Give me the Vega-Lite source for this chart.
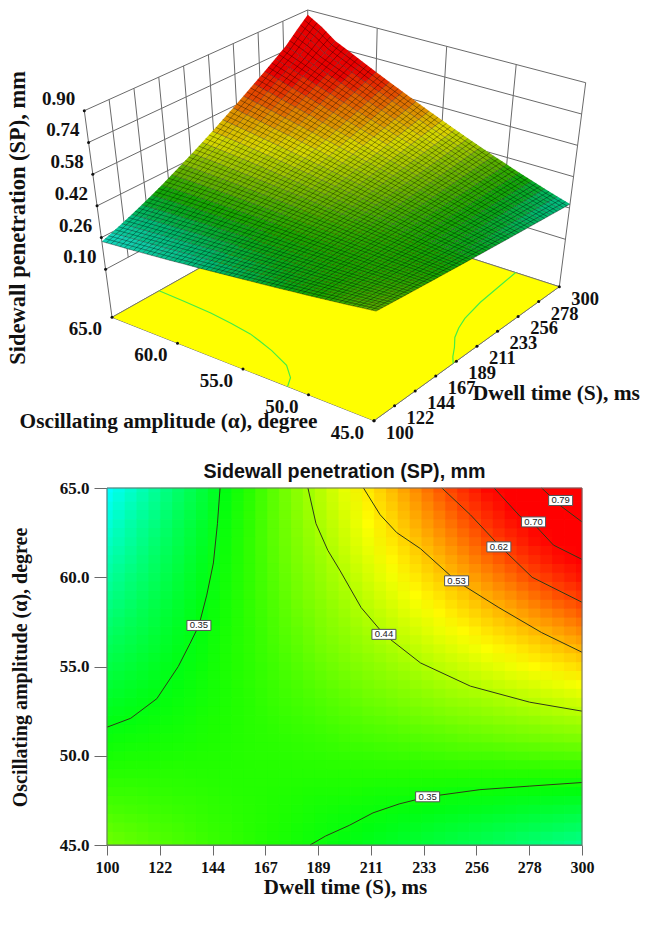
{"$schema":"https://vega.github.io/schema/vega-lite/v6.json","width":646,"height":927,"padding":0,"autosize":{"type":"none"},"background":"#ffffff","config":{"view":{"stroke":null},"legend":{"disable":true}},
"datasets":{
"grid":[
{"t":100,"a":45,"v":0.4},{"t":110,"a":45,"v":0.394},{"t":120,"a":45,"v":0.388},{"t":130,"a":45,"v":0.382},{"t":140,"a":45,"v":0.376},{"t":150,"a":45,"v":0.37},{"t":160,"a":45,"v":0.364},{"t":170,"a":45,"v":0.358},{"t":180,"a":45,"v":0.352},{"t":190,"a":45,"v":0.346},{"t":200,"a":45,"v":0.34},{"t":210,"a":45,"v":0.334},{"t":220,"a":45,"v":0.328},{"t":230,"a":45,"v":0.322},{"t":240,"a":45,"v":0.316},{"t":250,"a":45,"v":0.31},{"t":260,"a":45,"v":0.304},{"t":270,"a":45,"v":0.298},{"t":280,"a":45,"v":0.292},{"t":290,"a":45,"v":0.286},{"t":300,"a":45,"v":0.28},
{"t":100,"a":46,"v":0.391},{"t":110,"a":46,"v":0.386},{"t":120,"a":46,"v":0.381},{"t":130,"a":46,"v":0.377},{"t":140,"a":46,"v":0.372},{"t":150,"a":46,"v":0.368},{"t":160,"a":46,"v":0.363},{"t":170,"a":46,"v":0.359},{"t":180,"a":46,"v":0.354},{"t":190,"a":46,"v":0.349},{"t":200,"a":46,"v":0.345},{"t":210,"a":46,"v":0.34},{"t":220,"a":46,"v":0.336},{"t":230,"a":46,"v":0.331},{"t":240,"a":46,"v":0.326},{"t":250,"a":46,"v":0.322},{"t":260,"a":46,"v":0.317},{"t":270,"a":46,"v":0.313},{"t":280,"a":46,"v":0.308},{"t":290,"a":46,"v":0.304},{"t":300,"a":46,"v":0.299},
{"t":100,"a":47,"v":0.381},{"t":110,"a":47,"v":0.378},{"t":120,"a":47,"v":0.375},{"t":130,"a":47,"v":0.372},{"t":140,"a":47,"v":0.369},{"t":150,"a":47,"v":0.366},{"t":160,"a":47,"v":0.363},{"t":170,"a":47,"v":0.36},{"t":180,"a":47,"v":0.356},{"t":190,"a":47,"v":0.353},{"t":200,"a":47,"v":0.35},{"t":210,"a":47,"v":0.347},{"t":220,"a":47,"v":0.344},{"t":230,"a":47,"v":0.341},{"t":240,"a":47,"v":0.338},{"t":250,"a":47,"v":0.335},{"t":260,"a":47,"v":0.332},{"t":270,"a":47,"v":0.329},{"t":280,"a":47,"v":0.325},{"t":290,"a":47,"v":0.322},{"t":300,"a":47,"v":0.319},
{"t":100,"a":48,"v":0.372},{"t":110,"a":48,"v":0.371},{"t":120,"a":48,"v":0.369},{"t":130,"a":48,"v":0.367},{"t":140,"a":48,"v":0.366},{"t":150,"a":48,"v":0.364},{"t":160,"a":48,"v":0.362},{"t":170,"a":48,"v":0.361},{"t":180,"a":48,"v":0.359},{"t":190,"a":48,"v":0.357},{"t":200,"a":48,"v":0.356},{"t":210,"a":48,"v":0.354},{"t":220,"a":48,"v":0.353},{"t":230,"a":48,"v":0.351},{"t":240,"a":48,"v":0.35},{"t":250,"a":48,"v":0.348},{"t":260,"a":48,"v":0.347},{"t":270,"a":48,"v":0.345},{"t":280,"a":48,"v":0.344},{"t":290,"a":48,"v":0.342},{"t":300,"a":48,"v":0.34},
{"t":100,"a":49,"v":0.363},{"t":110,"a":49,"v":0.363},{"t":120,"a":49,"v":0.363},{"t":130,"a":49,"v":0.363},{"t":140,"a":49,"v":0.362},{"t":150,"a":49,"v":0.362},{"t":160,"a":49,"v":0.362},{"t":170,"a":49,"v":0.362},{"t":180,"a":49,"v":0.362},{"t":190,"a":49,"v":0.362},{"t":200,"a":49,"v":0.362},{"t":210,"a":49,"v":0.362},{"t":220,"a":49,"v":0.362},{"t":230,"a":49,"v":0.362},{"t":240,"a":49,"v":0.362},{"t":250,"a":49,"v":0.362},{"t":260,"a":49,"v":0.362},{"t":270,"a":49,"v":0.362},{"t":280,"a":49,"v":0.362},{"t":290,"a":49,"v":0.362},{"t":300,"a":49,"v":0.362},
{"t":100,"a":50,"v":0.354},{"t":110,"a":50,"v":0.356},{"t":120,"a":50,"v":0.357},{"t":130,"a":50,"v":0.358},{"t":140,"a":50,"v":0.36},{"t":150,"a":50,"v":0.361},{"t":160,"a":50,"v":0.363},{"t":170,"a":50,"v":0.364},{"t":180,"a":50,"v":0.366},{"t":190,"a":50,"v":0.367},{"t":200,"a":50,"v":0.369},{"t":210,"a":50,"v":0.37},{"t":220,"a":50,"v":0.372},{"t":230,"a":50,"v":0.373},{"t":240,"a":50,"v":0.375},{"t":250,"a":50,"v":0.377},{"t":260,"a":50,"v":0.378},{"t":270,"a":50,"v":0.38},{"t":280,"a":50,"v":0.382},{"t":290,"a":50,"v":0.383},{"t":300,"a":50,"v":0.385},
{"t":100,"a":51,"v":0.346},{"t":110,"a":51,"v":0.349},{"t":120,"a":51,"v":0.351},{"t":130,"a":51,"v":0.354},{"t":140,"a":51,"v":0.357},{"t":150,"a":51,"v":0.36},{"t":160,"a":51,"v":0.363},{"t":170,"a":51,"v":0.366},{"t":180,"a":51,"v":0.369},{"t":190,"a":51,"v":0.372},{"t":200,"a":51,"v":0.376},{"t":210,"a":51,"v":0.379},{"t":220,"a":51,"v":0.382},{"t":230,"a":51,"v":0.385},{"t":240,"a":51,"v":0.388},{"t":250,"a":51,"v":0.392},{"t":260,"a":51,"v":0.395},{"t":270,"a":51,"v":0.399},{"t":280,"a":51,"v":0.402},{"t":290,"a":51,"v":0.406},{"t":300,"a":51,"v":0.409},
{"t":100,"a":52,"v":0.337},{"t":110,"a":52,"v":0.342},{"t":120,"a":52,"v":0.346},{"t":130,"a":52,"v":0.35},{"t":140,"a":52,"v":0.355},{"t":150,"a":52,"v":0.359},{"t":160,"a":52,"v":0.364},{"t":170,"a":52,"v":0.368},{"t":180,"a":52,"v":0.373},{"t":190,"a":52,"v":0.378},{"t":200,"a":52,"v":0.383},{"t":210,"a":52,"v":0.388},{"t":220,"a":52,"v":0.392},{"t":230,"a":52,"v":0.397},{"t":240,"a":52,"v":0.402},{"t":250,"a":52,"v":0.408},{"t":260,"a":52,"v":0.413},{"t":270,"a":52,"v":0.418},{"t":280,"a":52,"v":0.423},{"t":290,"a":52,"v":0.429},{"t":300,"a":52,"v":0.434},
{"t":100,"a":53,"v":0.329},{"t":110,"a":53,"v":0.335},{"t":120,"a":53,"v":0.34},{"t":130,"a":53,"v":0.346},{"t":140,"a":53,"v":0.352},{"t":150,"a":53,"v":0.358},{"t":160,"a":53,"v":0.364},{"t":170,"a":53,"v":0.371},{"t":180,"a":53,"v":0.377},{"t":190,"a":53,"v":0.383},{"t":200,"a":53,"v":0.39},{"t":210,"a":53,"v":0.397},{"t":220,"a":53,"v":0.403},{"t":230,"a":53,"v":0.41},{"t":240,"a":53,"v":0.417},{"t":250,"a":53,"v":0.424},{"t":260,"a":53,"v":0.431},{"t":270,"a":53,"v":0.438},{"t":280,"a":53,"v":0.445},{"t":290,"a":53,"v":0.453},{"t":300,"a":53,"v":0.46},
{"t":100,"a":54,"v":0.321},{"t":110,"a":54,"v":0.328},{"t":120,"a":54,"v":0.335},{"t":130,"a":54,"v":0.342},{"t":140,"a":54,"v":0.35},{"t":150,"a":54,"v":0.357},{"t":160,"a":54,"v":0.365},{"t":170,"a":54,"v":0.373},{"t":180,"a":54,"v":0.381},{"t":190,"a":54,"v":0.389},{"t":200,"a":54,"v":0.397},{"t":210,"a":54,"v":0.406},{"t":220,"a":54,"v":0.414},{"t":230,"a":54,"v":0.423},{"t":240,"a":54,"v":0.432},{"t":250,"a":54,"v":0.441},{"t":260,"a":54,"v":0.45},{"t":270,"a":54,"v":0.459},{"t":280,"a":54,"v":0.468},{"t":290,"a":54,"v":0.477},{"t":300,"a":54,"v":0.487},
{"t":100,"a":55,"v":0.313},{"t":110,"a":55,"v":0.321},{"t":120,"a":55,"v":0.33},{"t":130,"a":55,"v":0.338},{"t":140,"a":55,"v":0.347},{"t":150,"a":55,"v":0.357},{"t":160,"a":55,"v":0.366},{"t":170,"a":55,"v":0.375},{"t":180,"a":55,"v":0.385},{"t":190,"a":55,"v":0.395},{"t":200,"a":55,"v":0.405},{"t":210,"a":55,"v":0.415},{"t":220,"a":55,"v":0.426},{"t":230,"a":55,"v":0.436},{"t":240,"a":55,"v":0.447},{"t":250,"a":55,"v":0.458},{"t":260,"a":55,"v":0.469},{"t":270,"a":55,"v":0.48},{"t":280,"a":55,"v":0.492},{"t":290,"a":55,"v":0.503},{"t":300,"a":55,"v":0.515},
{"t":100,"a":56,"v":0.305},{"t":110,"a":56,"v":0.314},{"t":120,"a":56,"v":0.324},{"t":130,"a":56,"v":0.335},{"t":140,"a":56,"v":0.345},{"t":150,"a":56,"v":0.356},{"t":160,"a":56,"v":0.367},{"t":170,"a":56,"v":0.378},{"t":180,"a":56,"v":0.389},{"t":190,"a":56,"v":0.401},{"t":200,"a":56,"v":0.413},{"t":210,"a":56,"v":0.425},{"t":220,"a":56,"v":0.437},{"t":230,"a":56,"v":0.45},{"t":240,"a":56,"v":0.462},{"t":250,"a":56,"v":0.475},{"t":260,"a":56,"v":0.489},{"t":270,"a":56,"v":0.502},{"t":280,"a":56,"v":0.516},{"t":290,"a":56,"v":0.53},{"t":300,"a":56,"v":0.544},
{"t":100,"a":57,"v":0.297},{"t":110,"a":57,"v":0.308},{"t":120,"a":57,"v":0.319},{"t":130,"a":57,"v":0.331},{"t":140,"a":57,"v":0.343},{"t":150,"a":57,"v":0.355},{"t":160,"a":57,"v":0.367},{"t":170,"a":57,"v":0.38},{"t":180,"a":57,"v":0.393},{"t":190,"a":57,"v":0.407},{"t":200,"a":57,"v":0.42},{"t":210,"a":57,"v":0.434},{"t":220,"a":57,"v":0.449},{"t":230,"a":57,"v":0.463},{"t":240,"a":57,"v":0.478},{"t":250,"a":57,"v":0.493},{"t":260,"a":57,"v":0.509},{"t":270,"a":57,"v":0.525},{"t":280,"a":57,"v":0.541},{"t":290,"a":57,"v":0.557},{"t":300,"a":57,"v":0.574},
{"t":100,"a":58,"v":0.289},{"t":110,"a":58,"v":0.301},{"t":120,"a":58,"v":0.314},{"t":130,"a":58,"v":0.327},{"t":140,"a":58,"v":0.34},{"t":150,"a":58,"v":0.354},{"t":160,"a":58,"v":0.368},{"t":170,"a":58,"v":0.382},{"t":180,"a":58,"v":0.397},{"t":190,"a":58,"v":0.412},{"t":200,"a":58,"v":0.428},{"t":210,"a":58,"v":0.444},{"t":220,"a":58,"v":0.46},{"t":230,"a":58,"v":0.477},{"t":240,"a":58,"v":0.494},{"t":250,"a":58,"v":0.512},{"t":260,"a":58,"v":0.53},{"t":270,"a":58,"v":0.548},{"t":280,"a":58,"v":0.567},{"t":290,"a":58,"v":0.586},{"t":300,"a":58,"v":0.605},
{"t":100,"a":59,"v":0.282},{"t":110,"a":59,"v":0.295},{"t":120,"a":59,"v":0.309},{"t":130,"a":59,"v":0.323},{"t":140,"a":59,"v":0.337},{"t":150,"a":59,"v":0.353},{"t":160,"a":59,"v":0.368},{"t":170,"a":59,"v":0.384},{"t":180,"a":59,"v":0.401},{"t":190,"a":59,"v":0.418},{"t":200,"a":59,"v":0.435},{"t":210,"a":59,"v":0.453},{"t":220,"a":59,"v":0.472},{"t":230,"a":59,"v":0.491},{"t":240,"a":59,"v":0.51},{"t":250,"a":59,"v":0.53},{"t":260,"a":59,"v":0.551},{"t":270,"a":59,"v":0.571},{"t":280,"a":59,"v":0.593},{"t":290,"a":59,"v":0.615},{"t":300,"a":59,"v":0.637},
{"t":100,"a":60,"v":0.274},{"t":110,"a":60,"v":0.289},{"t":120,"a":60,"v":0.303},{"t":130,"a":60,"v":0.319},{"t":140,"a":60,"v":0.335},{"t":150,"a":60,"v":0.351},{"t":160,"a":60,"v":0.368},{"t":170,"a":60,"v":0.386},{"t":180,"a":60,"v":0.404},{"t":190,"a":60,"v":0.423},{"t":200,"a":60,"v":0.443},{"t":210,"a":60,"v":0.463},{"t":220,"a":60,"v":0.483},{"t":230,"a":60,"v":0.505},{"t":240,"a":60,"v":0.527},{"t":250,"a":60,"v":0.549},{"t":260,"a":60,"v":0.572},{"t":270,"a":60,"v":0.596},{"t":280,"a":60,"v":0.62},{"t":290,"a":60,"v":0.645},{"t":300,"a":60,"v":0.67},
{"t":100,"a":61,"v":0.267},{"t":110,"a":61,"v":0.282},{"t":120,"a":61,"v":0.298},{"t":130,"a":61,"v":0.314},{"t":140,"a":61,"v":0.332},{"t":150,"a":61,"v":0.35},{"t":160,"a":61,"v":0.368},{"t":170,"a":61,"v":0.388},{"t":180,"a":61,"v":0.408},{"t":190,"a":61,"v":0.428},{"t":200,"a":61,"v":0.45},{"t":210,"a":61,"v":0.472},{"t":220,"a":61,"v":0.495},{"t":230,"a":61,"v":0.519},{"t":240,"a":61,"v":0.543},{"t":250,"a":61,"v":0.568},{"t":260,"a":61,"v":0.594},{"t":270,"a":61,"v":0.62},{"t":280,"a":61,"v":0.648},{"t":290,"a":61,"v":0.676},{"t":300,"a":61,"v":0.704},
{"t":100,"a":62,"v":0.26},{"t":110,"a":62,"v":0.276},{"t":120,"a":62,"v":0.293},{"t":130,"a":62,"v":0.31},{"t":140,"a":62,"v":0.328},{"t":150,"a":62,"v":0.348},{"t":160,"a":62,"v":0.368},{"t":170,"a":62,"v":0.389},{"t":180,"a":62,"v":0.411},{"t":190,"a":62,"v":0.433},{"t":200,"a":62,"v":0.457},{"t":210,"a":62,"v":0.481},{"t":220,"a":62,"v":0.506},{"t":230,"a":62,"v":0.532},{"t":240,"a":62,"v":0.559},{"t":250,"a":62,"v":0.587},{"t":260,"a":62,"v":0.616},{"t":270,"a":62,"v":0.645},{"t":280,"a":62,"v":0.676},{"t":290,"a":62,"v":0.707},{"t":300,"a":62,"v":0.739},
{"t":100,"a":63,"v":0.253},{"t":110,"a":63,"v":0.27},{"t":120,"a":63,"v":0.287},{"t":130,"a":63,"v":0.306},{"t":140,"a":63,"v":0.325},{"t":150,"a":63,"v":0.346},{"t":160,"a":63,"v":0.367},{"t":170,"a":63,"v":0.39},{"t":180,"a":63,"v":0.413},{"t":190,"a":63,"v":0.438},{"t":200,"a":63,"v":0.463},{"t":210,"a":63,"v":0.49},{"t":220,"a":63,"v":0.517},{"t":230,"a":63,"v":0.546},{"t":240,"a":63,"v":0.576},{"t":250,"a":63,"v":0.606},{"t":260,"a":63,"v":0.638},{"t":270,"a":63,"v":0.671},{"t":280,"a":63,"v":0.704},{"t":290,"a":63,"v":0.739},{"t":300,"a":63,"v":0.775},
{"t":100,"a":64,"v":0.247},{"t":110,"a":64,"v":0.264},{"t":120,"a":64,"v":0.282},{"t":130,"a":64,"v":0.301},{"t":140,"a":64,"v":0.321},{"t":150,"a":64,"v":0.343},{"t":160,"a":64,"v":0.366},{"t":170,"a":64,"v":0.39},{"t":180,"a":64,"v":0.415},{"t":190,"a":64,"v":0.442},{"t":200,"a":64,"v":0.469},{"t":210,"a":64,"v":0.498},{"t":220,"a":64,"v":0.528},{"t":230,"a":64,"v":0.559},{"t":240,"a":64,"v":0.592},{"t":250,"a":64,"v":0.626},{"t":260,"a":64,"v":0.661},{"t":270,"a":64,"v":0.697},{"t":280,"a":64,"v":0.734},{"t":290,"a":64,"v":0.785},{"t":300,"a":64,"v":0.83},
{"t":100,"a":65,"v":0.24},{"t":110,"a":65,"v":0.257},{"t":120,"a":65,"v":0.276},{"t":130,"a":65,"v":0.296},{"t":140,"a":65,"v":0.317},{"t":150,"a":65,"v":0.34},{"t":160,"a":65,"v":0.364},{"t":170,"a":65,"v":0.39},{"t":180,"a":65,"v":0.417},{"t":190,"a":65,"v":0.445},{"t":200,"a":65,"v":0.475},{"t":210,"a":65,"v":0.506},{"t":220,"a":65,"v":0.539},{"t":230,"a":65,"v":0.573},{"t":240,"a":65,"v":0.608},{"t":250,"a":65,"v":0.645},{"t":260,"a":65,"v":0.683},{"t":270,"a":65,"v":0.723},{"t":280,"a":65,"v":0.764},{"t":290,"a":65,"v":0.82},{"t":300,"a":65,"v":0.875}
],
"scene":[
{"k":"f","g":0,"t":100,"a":45,"z":-0.142},{"k":"f","g":0,"t":300,"a":45,"z":-0.142},{"k":"f","g":0,"t":300,"a":65,"z":-0.142},{"k":"f","g":0,"t":100,"a":65,"z":-0.142},
{"k":"w","g":1,"t":100,"a":65,"z":0.1},{"k":"w","g":1,"t":300,"a":65,"z":0.1},{"k":"w","g":2,"t":100,"a":65,"z":0.26},{"k":"w","g":2,"t":300,"a":65,"z":0.26},{"k":"w","g":3,"t":100,"a":65,"z":0.42},{"k":"w","g":3,"t":300,"a":65,"z":0.42},{"k":"w","g":4,"t":100,"a":65,"z":0.58},{"k":"w","g":4,"t":300,"a":65,"z":0.58},{"k":"w","g":5,"t":100,"a":65,"z":0.74},{"k":"w","g":5,"t":300,"a":65,"z":0.74},{"k":"w","g":6,"t":100,"a":65,"z":0.9},{"k":"w","g":6,"t":300,"a":65,"z":0.9},
{"k":"w","g":7,"t":300,"a":45,"z":0.1},{"k":"w","g":7,"t":300,"a":65,"z":0.1},{"k":"w","g":8,"t":300,"a":45,"z":0.26},{"k":"w","g":8,"t":300,"a":65,"z":0.26},{"k":"w","g":9,"t":300,"a":45,"z":0.42},{"k":"w","g":9,"t":300,"a":65,"z":0.42},{"k":"w","g":10,"t":300,"a":45,"z":0.58},{"k":"w","g":10,"t":300,"a":65,"z":0.58},{"k":"w","g":11,"t":300,"a":45,"z":0.74},{"k":"w","g":11,"t":300,"a":65,"z":0.74},{"k":"w","g":12,"t":300,"a":45,"z":0.9},{"k":"w","g":12,"t":300,"a":65,"z":0.9},
{"k":"w","g":13,"t":122.22,"a":65,"z":0.1},{"k":"w","g":13,"t":122.22,"a":65,"z":0.9},{"k":"w","g":14,"t":144.44,"a":65,"z":0.1},{"k":"w","g":14,"t":144.44,"a":65,"z":0.9},{"k":"w","g":15,"t":166.67,"a":65,"z":0.1},{"k":"w","g":15,"t":166.67,"a":65,"z":0.9},{"k":"w","g":16,"t":188.89,"a":65,"z":0.1},{"k":"w","g":16,"t":188.89,"a":65,"z":0.9},{"k":"w","g":17,"t":211.11,"a":65,"z":0.1},{"k":"w","g":17,"t":211.11,"a":65,"z":0.9},{"k":"w","g":18,"t":233.33,"a":65,"z":0.1},{"k":"w","g":18,"t":233.33,"a":65,"z":0.9},{"k":"w","g":19,"t":255.56,"a":65,"z":0.1},{"k":"w","g":19,"t":255.56,"a":65,"z":0.9},{"k":"w","g":20,"t":277.78,"a":65,"z":0.1},{"k":"w","g":20,"t":277.78,"a":65,"z":0.9},
{"k":"w","g":21,"t":300,"a":65,"z":0.1},{"k":"w","g":21,"t":300,"a":65,"z":0.9},{"k":"w","g":22,"t":100,"a":65,"z":-0.142},{"k":"w","g":22,"t":100,"a":65,"z":0.9},{"k":"w","g":23,"t":300,"a":45,"z":-0.142},{"k":"w","g":23,"t":300,"a":45,"z":0.9},
{"k":"w","g":24,"t":300,"a":50,"z":0.1},{"k":"w","g":24,"t":300,"a":50,"z":0.9},{"k":"w","g":25,"t":300,"a":55,"z":0.1},{"k":"w","g":25,"t":300,"a":55,"z":0.9},{"k":"w","g":26,"t":300,"a":60,"z":0.1},{"k":"w","g":26,"t":300,"a":60,"z":0.9},
{"k":"w","g":27,"t":100,"a":65,"z":-0.142},{"k":"w","g":27,"t":100,"a":45,"z":-0.142},{"k":"w","g":28,"t":100,"a":45,"z":-0.142},{"k":"w","g":28,"t":300,"a":45,"z":-0.142},{"k":"w","g":29,"t":100,"a":65,"z":-0.142},{"k":"w","g":29,"t":300,"a":65,"z":-0.142},{"k":"w","g":30,"t":300,"a":65,"z":-0.142},{"k":"w","g":30,"t":300,"a":45,"z":-0.142},
{"k":"c","g":31,"t":100,"a":51.6,"z":-0.142},{"k":"c","g":31,"t":110,"a":52.1,"z":-0.142},{"k":"c","g":31,"t":121,"a":53.2,"z":-0.142},{"k":"c","g":31,"t":130,"a":55,"z":-0.142},{"k":"c","g":31,"t":135,"a":56.3,"z":-0.142},{"k":"c","g":31,"t":138.7,"a":57.3,"z":-0.142},{"k":"c","g":31,"t":142,"a":59,"z":-0.142},{"k":"c","g":31,"t":144.8,"a":60.8,"z":-0.142},{"k":"c","g":31,"t":146.5,"a":63,"z":-0.142},{"k":"c","g":31,"t":147.6,"a":65,"z":-0.142},
{"k":"c","g":32,"t":185.5,"a":45,"z":-0.142},{"k":"c","g":32,"t":192,"a":45.5,"z":-0.142},{"k":"c","g":32,"t":202,"a":46.1,"z":-0.142},{"k":"c","g":32,"t":212,"a":46.8,"z":-0.142},{"k":"c","g":32,"t":223,"a":47.3,"z":-0.142},{"k":"c","g":32,"t":235,"a":47.7,"z":-0.142},{"k":"c","g":32,"t":257,"a":48.1,"z":-0.142},{"k":"c","g":32,"t":278,"a":48.3,"z":-0.142},{"k":"c","g":32,"t":300,"a":48.5,"z":-0.142},
{"k":"tz","t":100,"a":65,"z":0.9,"l":"0.90"},{"k":"tz","t":100,"a":65,"z":0.74,"l":"0.74"},{"k":"tz","t":100,"a":65,"z":0.58,"l":"0.58"},{"k":"tz","t":100,"a":65,"z":0.42,"l":"0.42"},{"k":"tz","t":100,"a":65,"z":0.26,"l":"0.26"},{"k":"tz","t":100,"a":65,"z":0.1,"l":"0.10"},
{"k":"ta","t":100,"a":65,"z":-0.142,"l":"65.0"},{"k":"ta","t":100,"a":60,"z":-0.142,"l":"60.0"},{"k":"ta","t":100,"a":55,"z":-0.142,"l":"55.0"},{"k":"ta","t":100,"a":50,"z":-0.142,"l":"50.0"},{"k":"ta","t":100,"a":45,"z":-0.142,"l":"45.0"},
{"k":"tt","t":100,"a":45,"z":-0.142,"l":"100"},{"k":"tt","t":122.22,"a":45,"z":-0.142,"l":"122"},{"k":"tt","t":144.44,"a":45,"z":-0.142,"l":"144"},{"k":"tt","t":166.67,"a":45,"z":-0.142,"l":"167"},{"k":"tt","t":188.89,"a":45,"z":-0.142,"l":"189"},{"k":"tt","t":211.11,"a":45,"z":-0.142,"l":"211"},{"k":"tt","t":233.33,"a":45,"z":-0.142,"l":"233"},{"k":"tt","t":255.56,"a":45,"z":-0.142,"l":"256"},{"k":"tt","t":277.78,"a":45,"z":-0.142,"l":"278"},{"k":"tt","t":300,"a":45,"z":-0.142,"l":"300"},
{"k":"lx","t":166.67,"a":45,"z":-0.142,"l":"Dwell time (S), ms"},{"k":"ly","t":100,"a":60,"z":-0.142,"l":"Oscillating amplitude (α), degree"},{"k":"lz","t":100,"a":65,"z":0.42,"l":"Sidewall penetration (SP), mm"}
],
"cont":[
{"g":"a","t":100,"a":51.6},{"g":"a","t":110,"a":52.1},{"g":"a","t":121,"a":53.2},{"g":"a","t":130,"a":55},{"g":"a","t":135,"a":56.3},{"g":"a","t":138.7,"a":57.3},{"g":"a","t":142,"a":59},{"g":"a","t":144.8,"a":60.8},{"g":"a","t":146.5,"a":63},{"g":"a","t":147.6,"a":65},
{"g":"b","t":185.5,"a":45},{"g":"b","t":192,"a":45.5},{"g":"b","t":202,"a":46.1},{"g":"b","t":212,"a":46.8},{"g":"b","t":223,"a":47.3},{"g":"b","t":235,"a":47.7},{"g":"b","t":257,"a":48.1},{"g":"b","t":278,"a":48.3},{"g":"b","t":300,"a":48.5},
{"g":"c","t":184.6,"a":65},{"g":"c","t":188,"a":63},{"g":"c","t":193,"a":61.5},{"g":"c","t":198,"a":60.4},{"g":"c","t":207,"a":58.3},{"g":"c","t":216.6,"a":56.8},{"g":"c","t":232,"a":55.2},{"g":"c","t":253,"a":53.9},{"g":"c","t":278,"a":53},{"g":"c","t":300,"a":52.5},
{"g":"d","t":208,"a":65},{"g":"d","t":215,"a":63.5},{"g":"d","t":222,"a":62.5},{"g":"d","t":232,"a":61.6},{"g":"d","t":247,"a":59.8},{"g":"d","t":265,"a":58.3},{"g":"d","t":283,"a":56.9},{"g":"d","t":300,"a":55.8},
{"g":"e","t":241,"a":65},{"g":"e","t":253,"a":63.5},{"g":"e","t":265,"a":61.8},{"g":"e","t":279,"a":60},{"g":"e","t":300,"a":58.6},
{"g":"f","t":263,"a":65},{"g":"f","t":274,"a":63.4},{"g":"f","t":279.6,"a":63},{"g":"f","t":288,"a":61.8},{"g":"f","t":300,"a":61},
{"g":"h","t":283,"a":65},{"g":"h","t":291,"a":64},{"g":"h","t":300,"a":63.1}
],
"labels":[{"t":138.7,"a":57.3,"l":"0.35"},{"t":216.6,"a":56.8,"l":"0.44"},{"t":247.2,"a":59.8,"l":"0.53"},{"t":265,"a":61.7,"l":"0.62"},{"t":279.6,"a":63.1,"l":"0.70"},{"t":291,"a":64.3,"l":"0.79"},{"t":235,"a":47.7,"l":"0.35"}]
},
"resolve":{"scale":{"x":"independent","y":"independent","color":"independent"},"axis":{"x":"independent","y":"independent"}},
"layer":[
{"data":{"name":"scene"},
"transform":[{"window":[{"op":"row_number","as":"o"}]},
{"calculate":"(datum.t-100)/200","as":"u"},{"calculate":"(datum.a-45)/20","as":"w"},{"calculate":"(datum.z+0.142)/1.042","as":"n"},
{"calculate":"(374*(1-datum.u)*(1-datum.w)+559.3*datum.u*(1-datum.w)+112*(1-datum.u)*datum.w+310*datum.u*datum.w)*(1-datum.n)+(378*(1-datum.u)*(1-datum.w)+585.7*datum.u*(1-datum.w)+84.3*(1-datum.u)*datum.w+307.7*datum.u*datum.w)*datum.n","as":"px"},
{"calculate":"(420.7*(1-datum.u)*(1-datum.w)+286.7*datum.u*(1-datum.w)+317.3*(1-datum.u)*datum.w+206*datum.u*datum.w)*(1-datum.n)+(210*(1-datum.u)*(1-datum.w)+82.7*datum.u*(1-datum.w)+110.7*(1-datum.u)*datum.w+10*datum.u*datum.w)*datum.n","as":"py"}],
"encoding":{"x":{"field":"px","type":"quantitative","scale":{"domain":[0,646],"range":[0,646]},"axis":null},"y":{"field":"py","type":"quantitative","scale":{"domain":[0,927],"range":[0,927]},"axis":null}},
"layer":[
{"transform":[{"filter":"datum.k=='w'"}],"mark":{"type":"line","stroke":"#6a6a6a","strokeWidth":1},"encoding":{"detail":{"field":"g"},"order":{"field":"o"}}},
{"transform":[{"filter":"datum.k=='f'"}],"mark":{"type":"line","filled":true,"fill":"#ffff00","stroke":"#6a6a6a","strokeWidth":0.8},"encoding":{"order":{"field":"o"}}},
{"transform":[{"filter":"datum.k=='c'"}],"mark":{"type":"line","stroke":"#44ee44","strokeWidth":1.2},"encoding":{"detail":{"field":"g"},"order":{"field":"o"}}},
{"transform":[{"filter":"datum.k=='tz'||datum.k=='ta'||datum.k=='tt'"}],"mark":{"type":"circle","size":9,"color":"#111111","opacity":1}},
{"transform":[{"filter":"datum.k=='tz'"}],"mark":{"type":"text","align":"right","baseline":"middle","dx":-9,"dy":-12,"font":"Liberation Serif","fontWeight":"bold","fontSize":19,"color":"#111111"},"encoding":{"text":{"field":"l"}}},
{"transform":[{"filter":"datum.k=='ta'"}],"mark":{"type":"text","align":"right","baseline":"middle","dx":-10,"dy":12,"font":"Liberation Serif","fontWeight":"bold","fontSize":19,"color":"#111111"},"encoding":{"text":{"field":"l"}}},
{"transform":[{"filter":"datum.k=='tt'"}],"mark":{"type":"text","align":"left","baseline":"middle","dx":12,"dy":12,"font":"Liberation Serif","fontWeight":"bold","fontSize":18.5,"color":"#111111"},"encoding":{"text":{"field":"l"}}},
{"transform":[{"filter":"datum.k=='lx'"}],"mark":{"type":"text","align":"left","baseline":"middle","dx":37,"dy":18,"font":"Liberation Serif","fontWeight":"bold","fontSize":21.5,"color":"#111111"},"encoding":{"text":{"field":"l"}}},
{"transform":[{"filter":"datum.k=='ly'"}],"mark":{"type":"text","align":"center","baseline":"middle","dx":-9,"dy":79,"font":"Liberation Serif","fontWeight":"bold","fontSize":21.3,"color":"#111111"},"encoding":{"text":{"field":"l"}}},
{"transform":[{"filter":"datum.k=='lz'"}],"mark":{"type":"text","angle":270,"align":"center","baseline":"middle","dx":-12,"dy":-79,"font":"Liberation Serif","fontWeight":"bold","fontSize":22.5,"color":"#111111"},"encoding":{"text":{"field":"l"}}}
]},
{"data":{"name":"grid"},
"transform":[{"window":[{"op":"lead","field":"v","as":"vA"}],"groupby":["t"],"sort":[{"field":"a"}]},
{"window":[{"op":"lead","field":"v","as":"vT"},{"op":"lead","field":"vA","as":"vD"}],"groupby":["a"],"sort":[{"field":"t"}]},
{"filter":"isValid(datum.vD)"},
{"calculate":"(datum.v+datum.vA+datum.vT+datum.vD)/4","as":"m"},
{"calculate":"[0,1,1,0,0,1,0,1,0,1,0,0,0.333,0.333,0.667,0.667]","as":"fu"},{"calculate":"[0,0,1,1,0,0,0.333,0.333,0.667,0.667,0,1,0,1,0,1]","as":"fa"},{"calculate":"[0,0,0,0,1,1,2,2,3,3,4,4,5,5,6,6]","as":"q"},{"calculate":"[0,1,2,3,4,5,6,7,8,9,10,11,12,13,14,15]","as":"o"},
{"flatten":["fu","fa","q","o"]},
{"calculate":"datum.v*(1-datum.fu)*(1-datum.fa)+datum.vT*datum.fu*(1-datum.fa)+datum.vA*(1-datum.fu)*datum.fa+datum.vD*datum.fu*datum.fa","as":"z"},
{"calculate":"(datum.t+10*datum.fu-100)/200","as":"u"},{"calculate":"(datum.a+datum.fa-45)/20","as":"w"},{"calculate":"(datum.z+0.142)/1.042","as":"n"},
{"calculate":"(374*(1-datum.u)*(1-datum.w)+559.3*datum.u*(1-datum.w)+112*(1-datum.u)*datum.w+310*datum.u*datum.w)*(1-datum.n)+(378*(1-datum.u)*(1-datum.w)+585.7*datum.u*(1-datum.w)+84.3*(1-datum.u)*datum.w+307.7*datum.u*datum.w)*datum.n","as":"px"},
{"calculate":"(420.7*(1-datum.u)*(1-datum.w)+286.7*datum.u*(1-datum.w)+317.3*(1-datum.u)*datum.w+206*datum.u*datum.w)*(1-datum.n)+(210*(1-datum.u)*(1-datum.w)+82.7*datum.u*(1-datum.w)+110.7*(1-datum.u)*datum.w+10*datum.u*datum.w)*datum.n","as":"py"}],
"encoding":{"x":{"field":"px","type":"quantitative","scale":{"domain":[0,646],"range":[0,646]},"axis":null},"y":{"field":"py","type":"quantitative","scale":{"domain":[0,927],"range":[0,927]},"axis":null},"order":{"field":"o"}},
"layer":[
{"transform":[{"filter":"datum.q==0"}],"mark":{"type":"line","filled":true,"strokeWidth":0},"encoding":{"detail":[{"field":"t"},{"field":"a"}],"color":{"field":"m","type":"quantitative","legend":null,"scale":{"clamp":true,"interpolate":"rgb","domain":[0.24,0.3,0.34,0.36,0.4,0.49,0.68],"range":["#18d8c8","#00b870","#08a818","#18a800","#60b000","#d8d800","#e80000"]}}}},
{"transform":[{"filter":"datum.q>0"}],"mark":{"type":"line","stroke":"#000000","strokeWidth":0.6,"strokeOpacity":0.6},"encoding":{"detail":[{"field":"t"},{"field":"a"},{"field":"q"}]}}
]},
{"encoding":{"x":{"field":"t","type":"quantitative","title":"Dwell time (S), ms","scale":{"domain":[100,300],"range":[107,582],"nice":false,"zero":false},"axis":{"orient":"bottom","offset":-82,"values":[100,122.22,144.44,166.67,188.89,211.11,233.33,255.56,277.78,300],"format":".0f","grid":false,"domainColor":"#6a6a6a","tickColor":"#6a6a6a","tickSize":10,"labelFont":"Liberation Serif","labelFontWeight":"bold","labelFontSize":16,"labelColor":"#111111","labelPadding":4,"labelOverlap":false,"labelFlush":false,"titleFont":"Liberation Serif","titleFontWeight":"bold","titleFontSize":21,"titleColor":"#111111","titleX":345,"titleY":42,"titleBaseline":"middle"}},
"y":{"field":"a","type":"quantitative","title":"Oscillating amplitude (α), degree","scale":{"domain":[45,65],"range":[845,488],"nice":false,"zero":false},"axis":{"orient":"left","offset":-107,"values":[45,50,55,60,65],"format":".1f","grid":false,"domainColor":"#6a6a6a","tickColor":"#6a6a6a","tickSize":13,"labelFont":"Liberation Serif","labelFontWeight":"bold","labelFontSize":17,"labelColor":"#111111","labelPadding":5,"labelOverlap":false,"labelFlush":false,"titleFont":"Liberation Serif","titleFontWeight":"bold","titleFontSize":20,"titleColor":"#111111","titleX":-87,"titleY":667,"titleBaseline":"middle"}}},
"layer":[
{"data":{"name":"grid"},"transform":[{"calculate":"clamp(datum.t+2.5,100,300)","as":"t1"},{"calculate":"clamp(datum.t-7.5,100,300)","as":"t"},{"calculate":"clamp(datum.a+0.25,45,65)","as":"a1"},{"calculate":"clamp(datum.a-0.75,45,65)","as":"a"}],"mark":{"type":"rect","strokeWidth":0.6},"encoding":{"x2":{"field":"t1"},"y2":{"field":"a1"},"color":{"field":"v","type":"quantitative","legend":null,"scale":{"clamp":true,"interpolate":"rgb","domain":[0.24,0.27,0.3,0.34,0.36,0.4,0.49,0.53,0.62,0.69],"range":["#00ffff","#00ffa8","#00ff60","#00ff10","#20ff00","#70ff00","#ffff00","#ffc800","#ff4800","#ff0000"]}},"stroke":{"field":"v","type":"quantitative","legend":null,"scale":{"clamp":true,"interpolate":"rgb","domain":[0.24,0.27,0.3,0.34,0.36,0.4,0.49,0.53,0.62,0.69],"range":["#00ffff","#00ffa8","#00ff60","#00ff10","#20ff00","#70ff00","#ffff00","#ffc800","#ff4800","#ff0000"]}}}},
{"data":{"name":"grid"},"transform":[{"calculate":"clamp(datum.t+7.5,100,300)","as":"t1"},{"calculate":"clamp(datum.t-2.5,100,300)","as":"t"},{"calculate":"clamp(datum.a+0.75,45,65)","as":"a1"},{"calculate":"clamp(datum.a-0.25,45,65)","as":"a"}],"mark":{"type":"rect","opacity":0.5},"encoding":{"x2":{"field":"t1"},"y2":{"field":"a1"},"color":{"field":"v","type":"quantitative","legend":null,"scale":{"clamp":true,"interpolate":"rgb","domain":[0.24,0.27,0.3,0.34,0.36,0.4,0.49,0.53,0.62,0.69],"range":["#00ffff","#00ffa8","#00ff60","#00ff10","#20ff00","#70ff00","#ffff00","#ffc800","#ff4800","#ff0000"]}}}},
{"data":{"name":"grid"},"transform":[{"calculate":"clamp(datum.t+7.5,100,300)","as":"t1"},{"calculate":"clamp(datum.t-2.5,100,300)","as":"t"},{"calculate":"clamp(datum.a+0.25,45,65)","as":"a1"},{"calculate":"clamp(datum.a-0.75,45,65)","as":"a"}],"mark":{"type":"rect","opacity":0.33},"encoding":{"x2":{"field":"t1"},"y2":{"field":"a1"},"color":{"field":"v","type":"quantitative","legend":null,"scale":{"clamp":true,"interpolate":"rgb","domain":[0.24,0.27,0.3,0.34,0.36,0.4,0.49,0.53,0.62,0.69],"range":["#00ffff","#00ffa8","#00ff60","#00ff10","#20ff00","#70ff00","#ffff00","#ffc800","#ff4800","#ff0000"]}}}},
{"data":{"name":"grid"},"transform":[{"calculate":"clamp(datum.t+2.5,100,300)","as":"t1"},{"calculate":"clamp(datum.t-7.5,100,300)","as":"t"},{"calculate":"clamp(datum.a+0.75,45,65)","as":"a1"},{"calculate":"clamp(datum.a-0.25,45,65)","as":"a"}],"mark":{"type":"rect","opacity":0.25},"encoding":{"x2":{"field":"t1"},"y2":{"field":"a1"},"color":{"field":"v","type":"quantitative","legend":null,"scale":{"clamp":true,"interpolate":"rgb","domain":[0.24,0.27,0.3,0.34,0.36,0.4,0.49,0.53,0.62,0.69],"range":["#00ffff","#00ffa8","#00ff60","#00ff10","#20ff00","#70ff00","#ffff00","#ffc800","#ff4800","#ff0000"]}}}},
{"data":{"name":"cont"},"mark":{"type":"line","stroke":"#2f3a18","strokeWidth":1},"encoding":{"detail":{"field":"g"}}},
{"data":{"values":[{"t":100,"t1":300,"a":45,"a1":65}]},"mark":{"type":"rect","fillOpacity":0,"stroke":"#6a6a6a","strokeWidth":1},"encoding":{"x2":{"field":"t1"},"y2":{"field":"a1"}}},
{"data":{"name":"labels"},"mark":{"type":"rect","width":24,"height":10,"fill":"#ffffff","stroke":"#555555","strokeWidth":1}},
{"data":{"name":"labels"},"mark":{"type":"text","font":"Liberation Sans","fontSize":9.5,"color":"#222222","baseline":"middle"},"encoding":{"text":{"field":"l"}}},
{"data":{"values":[{"t":200,"a":65.9,"l":"Sidewall penetration (SP), mm"}]},"mark":{"type":"text","font":"Liberation Sans","fontWeight":"bold","fontSize":19.7,"color":"#111111","baseline":"middle"},"encoding":{"text":{"field":"l"}}}
]}
]}
